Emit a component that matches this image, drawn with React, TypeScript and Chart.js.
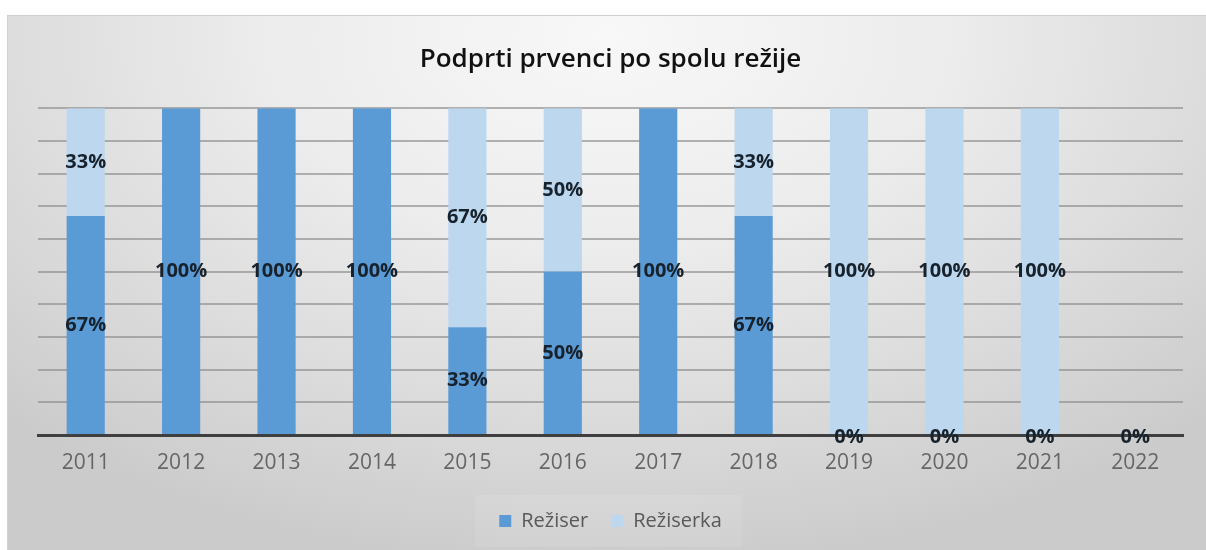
import { useEffect, useRef } from "react";
import { Chart, registerables } from "chart.js";

Chart.register(...registerables);

const categories = ["2011", "2012", "2013", "2014", "2015", "2016", "2017", "2018", "2019", "2020", "2021", "2022"];
const reziser = [67, 100, 100, 100, 33, 50, 100, 67, 0, 0, 0, 0];
const reziserka = [33, 0, 0, 0, 67, 50, 0, 33, 100, 100, 100, 0];
const seriesNames = ["Režiser", "Režiserka"];
const titleText = "Podprti prvenci po spolu režije";

const FONT = "'Open Sans', 'DejaVu Sans', sans-serif";

const labelPlugin = {
  id: "barLabels",
  afterDraw(chart: any) {
    const ctx = chart.ctx;
    ctx.save();
    ctx.font = `700 20px ${FONT}`;
    ctx.fillStyle = "#18222c";
    ctx.textAlign = "center";
    ctx.textBaseline = "middle";
    chart.data.datasets.forEach((ds: any, di: number) => {
      const meta = chart.getDatasetMeta(di);
      meta.data.forEach((el: any, i: number) => {
        const v = ds.data[i] as number;
        if (di === 1 && v === 0) return;
        const p = el.getCenterPoint();
        ctx.fillText(`${v}%`, p.x, p.y + (v === 0 ? 2 : 0));
      });
    });
    ctx.restore();
  },
};

const legendBgPlugin = {
  id: "legendBg",
  beforeDraw(chart: any) {
    const lg = chart.legend;
    if (!lg || !lg.legendHitBoxes || !lg.legendHitBoxes.length) return;
    const hb = lg.legendHitBoxes;
    const first = hb[0];
    const last = hb[hb.length - 1];
    const ctx = chart.ctx;
    ctx.save();
    ctx.fillStyle = "rgba(255,255,255,0.09)";
    const x0 = first.left - 24;
    const x1 = last.left + last.width + 20;
    const y0 = first.top - 16;
    const y1 = first.top + first.height + 16;
    ctx.fillRect(x0, y0, x1 - x0, y1 - y0);
    ctx.restore();
  },
};

export default function App() {
  const ref = useRef<HTMLCanvasElement | null>(null);

  useEffect(() => {
    if (!ref.current) return;
    const chart = new Chart(ref.current, {
      type: "bar",
      data: {
        labels: categories,
        datasets: [
          {
            label: seriesNames[0],
            data: reziser,
            backgroundColor: "#5B9BD5",
            barPercentage: 0.4,
            categoryPercentage: 1,
          },
          {
            label: seriesNames[1],
            data: reziserka,
            backgroundColor: "#BDD7EE",
            barPercentage: 0.4,
            categoryPercentage: 1,
          },
        ],
      },
      options: {
        animation: false,
        responsive: true,
        maintainAspectRatio: false,
        layout: { padding: { left: 38, right: 23, top: 0, bottom: 9 } },
        font: { family: FONT },
        plugins: {
          title: {
            display: true,
            text: titleText,
            color: "#111111",
            font: { family: FONT, size: 26, weight: "600" },
            padding: { top: 44, bottom: 33 },
          },
          legend: {
            display: true,
            position: "bottom",
            labels: {
              color: "#595959",
              font: { family: FONT, size: 20 },
              boxWidth: 12,
              boxHeight: 12,
              padding: 23,
            },
          },
          tooltip: { enabled: false },
        },
        scales: {
          x: {
            stacked: true,
            z: 1,
            grid: { display: false, drawTicks: false },
            border: { display: true, color: "#3f3f3f", width: 3 },
            ticks: {
              color: "#666666",
              font: { family: FONT, size: 21 },
              padding: 15,
              maxRotation: 0,
            },
            afterFit: (scale: any) => {
              scale.height = 53;
            },
          },
          y: {
            stacked: true,
            min: 0,
            max: 100,
            ticks: { display: false, stepSize: 10 },
            border: { display: false },
            grid: {
              drawTicks: false,
              color: "rgba(140,140,140,0.65)",
              lineWidth: 2,
            },
            afterFit: (scale: any) => {
              scale.width = 0;
            },
          },
        },
      },
      plugins: [legendBgPlugin, labelPlugin],
    } as any);
    return () => chart.destroy();
  }, []);

  return (
    <div
      style={{
        position: "absolute",
        left: 0,
        top: 0,
        width: 1206,
        height: 550,
        background: "#ffffff",
        overflow: "hidden",
      }}
    >
      <div
        style={{
          position: "absolute",
          left: 7,
          top: 15,
          right: 0,
          bottom: 0,
          borderTop: "1px solid #d0d0d0",
          borderLeft: "1px solid #d0d0d0",
          background:
            "radial-gradient(ellipse 72% 100% at 50% 4%, #f8f8f8 0%, #ececec 40%, #dcdcdc 70%, #cbcbcb 100%)",
        }}
      />
      <div style={{ position: "absolute", left: 0, top: 0, width: 1206, height: 550 }}>
        <canvas ref={ref} />
      </div>
    </div>
  );
}
